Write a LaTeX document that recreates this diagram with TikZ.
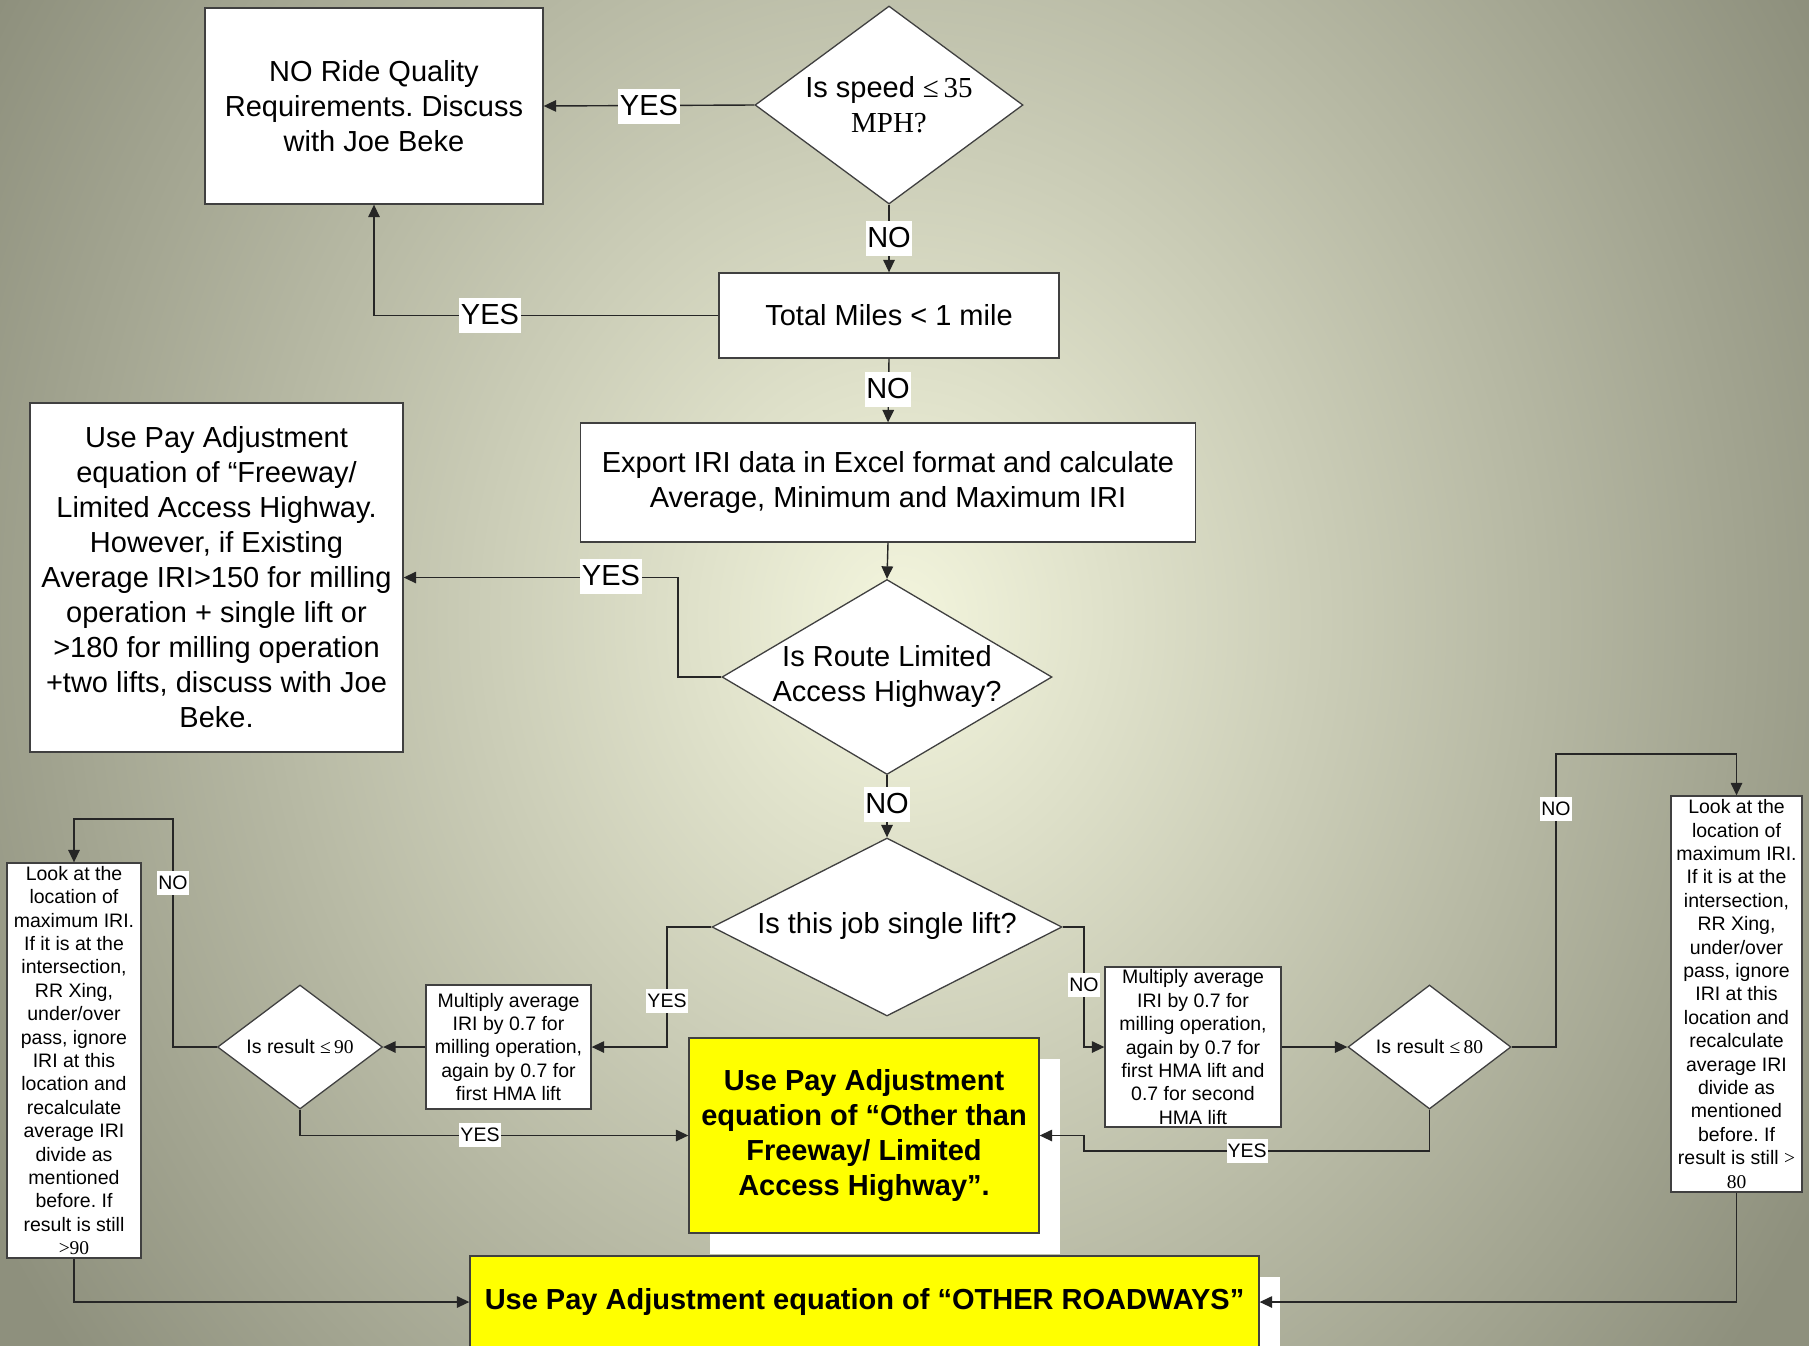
\documentclass[tikz,border=0pt]{standalone}
\usepackage{fontspec}
\setmainfont{Liberation Sans}
\newfontfamily\tnr{Liberation Serif}
\usetikzlibrary{shapes.geometric,arrows.meta,shadows}
\definecolor{bgin}{HTML}{F3F5DD}
\definecolor{bgout}{HTML}{8E907D}
\definecolor{ln}{HTML}{262626}
\definecolor{yel}{HTML}{FFFF00}
\newcommand\BigTxt{\fontsize{29}{35}\selectfont}
\newcommand\SmallTxt{\fontsize{19.5}{23.4}\selectfont}
\frenchspacing
\begin{document}
\begin{tikzpicture}[x=1pt,y=-1pt,
  box/.style={draw=black!75, line width=1.3pt, fill=white, inner sep=0pt, align=center},
  dia/.style={diamond, draw=black!75, line width=1.3pt, fill=white, inner sep=0pt},
  arr/.style={draw=ln, line width=1.4pt, -{Triangle[length=12.5pt,width=11.5pt]}},
  lbl/.style={fill=white, inner sep=1.5pt, font=\BigTxt, text height=25pt, text depth=7pt},
  slbl/.style={fill=white, inner sep=1pt, font=\SmallTxt, text height=17pt, text depth=4.5pt},
  ybox/.style={box, fill=yel, font=\BigTxt\bfseries,
    general shadow={fill=white, shadow xshift=21pt, shadow yshift=-21pt}},
]
% background
\useasboundingbox (0,0) rectangle (1809,1345);
\fill[bgout] (-10,-10) rectangle (1819,1355);
\begin{scope}
  \clip (-10,-10) rectangle (1819,1355);
  \shade[inner color=bgin, outer color=bgout] (900,620) ellipse [x radius=1050pt, y radius=1200pt];
\end{scope}

% nodes
\node[box, minimum width=338pt, minimum height=196pt, font=\BigTxt] (A) at (374,106)
  {NO Ride Quality\\Requirements. Discuss\\with Joe Beke};
\node[dia, minimum width=268pt, minimum height=198pt] (B) at (889,105) {};
\node[font=\BigTxt, align=center, inner sep=0pt] (Bt) at (889,105) {Is speed {\tnr ≤\,35}\\{\tnr MPH?}};
\node[box, minimum width=340pt, minimum height=85pt, font=\BigTxt] (C) at (889,315.5) {Total Miles < 1 mile};
\node[box, minimum width=615pt, minimum height=119pt, font=\BigTxt] (D) at (888,482.5)
  {Export IRI data in Excel format and calculate\\Average, Minimum and Maximum IRI};
\node[dia, minimum width=330pt, minimum height=195pt] (E) at (887,677) {};
\node[font=\BigTxt, align=center, inner sep=0pt] (Et) at (887,676) {Is Route Limited\\Access Highway?};
\node[box, minimum width=373pt, minimum height=349pt, font=\BigTxt] (F) at (216.5,577.5)
  {Use Pay Adjustment\\equation of “Freeway/\\Limited Access Highway.\\However, if Existing\\Average IRI>150 for milling\\operation + single lift or\\>180 for milling operation\\+two lifts, discuss with Joe\\Beke.};
\node[dia, minimum width=350pt, minimum height=178pt] (G) at (887,927) {};
\node[font=\BigTxt, inner sep=0pt] (Gt) at (887,926) {Is this job single lift?};
\node[box, minimum width=165pt, minimum height=124pt, font=\SmallTxt] (H) at (508.5,1047)
  {Multiply average\\IRI by 0.7 for\\milling operation,\\again by 0.7 for\\first HMA lift};
\node[dia, minimum width=165pt, minimum height=124pt] (I) at (300,1047) {};
\node[font=\SmallTxt, inner sep=0pt] (It) at (300,1047) {Is result {\tnr ≤\,90}};
\node[box, minimum width=134pt, minimum height=395pt, font=\SmallTxt] (J) at (74,1060.5)
  {Look at the\\location of\\maximum IRI.\\If it is at the\\intersection,\\RR Xing,\\under/over\\pass, ignore\\IRI at this\\location and\\recalculate\\average IRI\\divide as\\mentioned\\before. If\\result is still\\{\tnr >90}};
\node[ybox, minimum width=350pt, minimum height=195pt] (K) at (864,1135.5)
  {Use Pay Adjustment\\equation of “Other than\\Freeway/ Limited\\Access Highway”.};
\node[ybox, minimum width=789pt, minimum height=92pt] (L) at (864.5,1302)
  {Use Pay Adjustment equation of “OTHER ROADWAYS”};
\node[box, minimum width=176pt, minimum height=160pt, font=\SmallTxt] (M) at (1193,1047)
  {Multiply average\\IRI by 0.7 for\\milling operation,\\again by 0.7 for\\first HMA lift and\\0.7 for second\\HMA lift};
\node[dia, minimum width=163pt, minimum height=124pt] (N) at (1429.5,1047) {};
\node[font=\SmallTxt, inner sep=0pt] (Nt) at (1429.5,1047) {Is result {\tnr ≤\,80}};
\node[box, minimum width=131pt, minimum height=396pt, font=\SmallTxt] (O) at (1736.5,994)
  {Look at the\\location of\\maximum IRI.\\If it is at the\\intersection,\\RR Xing,\\under/over\\pass, ignore\\IRI at this\\location and\\recalculate\\average IRI\\divide as\\mentioned\\before. If\\result is still {\tnr >}\\{\tnr 80}};

% bend points
\coordinate (yb) at (678,577);
\coordinate (gl) at (667,990);
\coordinate (il) at (173,819);
\coordinate (gr) at (1084,990);
\coordinate (nr) at (1556,754);
\coordinate (ny) at (1084,1151);

% connectors
\draw[arr] (B.west) -- (A.east);
\draw[arr] (B.south) -- (C.north);
\draw[arr] (C.west) -| (A.south);
\draw[arr] (C.south) -- (D.north);
\draw[arr] (D.south) -- (E.north);
\draw[arr] (E.west) -| (yb) |- (F.east);
\draw[arr] (E.south) -- (G.north);
\draw[arr] (G.west) -| (gl) |- (H.east);
\draw[arr] (H.west) -- (I.east);
\draw[arr] (I.west) -| (il) -| (J.north);
\draw[arr] (I.south) |- (K.west);
\draw[arr] (J.south) |- (L.west);
\draw[arr] (G.east) -| (gr) |- (M.west);
\draw[arr] (M.east) -- (N.west);
\draw[arr] (N.east) -| (nr) -| (O.north);
\draw[arr] (N.south) |- (ny) |- (K.east);
\draw[arr] (O.south) |- (L.east);

% labels
\node[lbl] (y1) at (649,106) {YES};
\node[lbl] (n1) at (889,238) {NO};
\node[lbl] (y2) at (490,315) {YES};
\node[lbl] (n2) at (888,389) {NO};
\node[lbl] (y3) at (611,576) {YES};
\node[lbl] (n3) at (887,804) {NO};
\node[slbl] (n4) at (173,883) {NO};
\node[slbl] (y4) at (667,1001) {YES};
\node[slbl] (y5) at (480,1135) {YES};
\node[slbl] (n5) at (1084,985) {NO};
\node[slbl] (y6) at (1247,1151) {YES};
\node[slbl] (n6) at (1556,809) {NO};
\end{tikzpicture}
\end{document}
